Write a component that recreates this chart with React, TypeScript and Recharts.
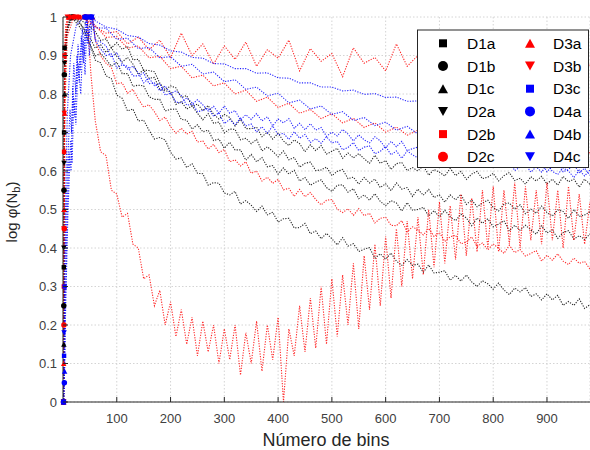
import React from 'react'
import { LineChart, Line, XAxis, YAxis, CartesianGrid } from 'recharts'

const FONT = '"Liberation Sans", Arial, Helvetica, sans-serif'

// x positions (number of bins)
const mainBins = [
  60, 80, 100, 120, 140, 160, 180, 200, 220, 240,
  260, 280, 300, 320, 340, 360, 380, 400, 420, 440,
  460, 480, 500, 520, 540, 560, 580, 600, 620, 640,
  660, 680, 700, 720, 740, 760, 780, 800, 820, 840,
  860, 880, 900, 920, 940, 960, 980,
]
const fineBins = [
  60, 70, 80, 90, 100, 110, 120, 130, 140, 150,
  160, 170, 180, 190, 200, 210, 220, 230, 240, 250,
  260, 270, 280, 290, 300, 310, 320, 330, 340, 350,
  360, 370, 380, 390, 400, 410, 420, 430, 440, 450,
  460, 470, 480, 490, 500, 510, 520, 530, 540, 550,
  560, 570, 580, 590, 600, 610, 620, 630, 640, 650,
  660, 670, 680, 690, 700, 710, 720, 730, 740, 750,
  760, 770, 780, 790, 800, 810, 820, 830, 840, 850,
  860, 870, 880, 890, 900, 910, 920, 930, 940, 950,
  960, 970, 980,
]

const xTicks = [100, 200, 300, 400, 500, 600, 700, 800, 900]
const yTicks = [0, 0.1, 0.2, 0.3, 0.4, 0.5, 0.6, 0.7, 0.8, 0.9, 1]

// first points (the marked start of each curve)
const d1aStartBins = [1, 1.5, 2, 3, 10, 20, 35, 50]
const d1aStart = [0, 0.35, 0.7, 0.92, 0.99, 1, 0.99, 0.975]
const d1bStartBins = [1, 1.4, 1.8, 2.5, 8, 18, 30, 45]
const d1bStart = [0, 0.25, 0.55, 0.85, 0.97, 1, 0.985, 0.96]
const d1cStartBins = [1, 1.6, 2.2, 3, 6, 15, 28, 45]
const d1cStart = [0, 0.15, 0.5, 0.8, 0.95, 1, 0.98, 0.945]
const d2aStartBins = [1, 1.5, 2, 3, 7, 16, 30, 45]
const d2aStart = [0, 0.4, 0.62, 0.88, 0.97, 1, 0.99, 0.95]
const d2bStartBins = [1, 1.5, 2, 3, 5, 12, 30, 45]
const d2bStart = [0, 0.3, 0.65, 0.9, 0.98, 1, 1, 0.99]
const d2cStartBins = [1, 1.7, 2.4, 4, 8, 20, 40, 50]
const d2cStart = [0, 0.2, 0.45, 0.78, 0.95, 1, 1, 0.99]
const d3aStartBins = [1, 1.3, 2, 3, 5, 10, 30, 55]
const d3aStart = [0, 0.1, 0.5, 0.75, 0.93, 1, 1, 1]
const d3bStartBins = [1, 1.6, 2.5, 4, 8, 25, 45, 52]
const d3bStart = [0, 0.45, 0.75, 0.95, 1, 1, 1, 0.85]
const d3cStartBins = [1, 2, 3, 5, 8, 14, 25, 40, 50]
const d3cStart = [0, 0.12, 0.3, 0.55, 0.75, 0.9, 0.98, 1, 1]
const d4aStartBins = [1, 2.5, 4, 7, 11, 15, 18, 22, 26, 30, 34, 38, 42, 46, 52]
const d4aStart = [0, 0.05, 0.22, 0.45, 0.65, 0.6, 0.82, 0.74, 0.9, 0.83, 0.95, 0.88, 1, 0.93, 1]
const d4bStartBins = [1, 3, 5, 9, 14, 17, 20, 24, 28, 33, 37, 41, 45, 49, 55]
const d4bStart = [0, 0.08, 0.25, 0.48, 0.68, 0.62, 0.79, 0.72, 0.88, 0.8, 0.94, 0.85, 1, 0.9, 1]
const d4cStartBins = [1, 2, 4, 8, 13, 16, 20, 24, 28, 32, 36, 40, 44, 48, 54]
const d4cStart = [0, 0.18, 0.38, 0.6, 0.76, 0.7, 0.88, 0.8, 0.93, 0.86, 0.97, 0.9, 1, 0.95, 1]

// log phi(Nb), every 10 bins from 60
const d1a = [
  0.962, 0.939, 0.943, 0.92, 0.933, 0.916, 0.924, 0.889, 0.89, 0.862,
  0.861, 0.858, 0.828, 0.811, 0.821, 0.816, 0.791, 0.796, 0.768, 0.774,
  0.757, 0.77, 0.747, 0.735, 0.747, 0.739, 0.717, 0.734, 0.71, 0.71,
  0.714, 0.689, 0.701, 0.683, 0.698, 0.678, 0.666, 0.681, 0.671, 0.65,
  0.668, 0.653, 0.666, 0.644, 0.651, 0.659, 0.633, 0.647, 0.634, 0.645,
  0.632, 0.62, 0.641, 0.62, 0.627, 0.604, 0.619, 0.622, 0.601, 0.609,
  0.6, 0.614, 0.589, 0.604, 0.597, 0.587, 0.607, 0.588, 0.599, 0.578,
  0.592, 0.599, 0.58, 0.584, 0.594, 0.574, 0.588, 0.596, 0.575, 0.581,
  0.566, 0.585, 0.574, 0.586, 0.566, 0.579, 0.563, 0.586, 0.572, 0.579,
  0.558, 0.579, 0.565,
]
const d1b = [
  0.919, 0.928, 0.908, 0.92, 0.898, 0.883, 0.895, 0.878, 0.851, 0.863,
  0.841, 0.843, 0.812, 0.808, 0.807, 0.773, 0.78, 0.761, 0.769, 0.75,
  0.733, 0.749, 0.724, 0.727, 0.699, 0.709, 0.708, 0.681, 0.685, 0.671,
  0.682, 0.652, 0.663, 0.651, 0.637, 0.652, 0.629, 0.635, 0.61, 0.62,
  0.623, 0.601, 0.603, 0.61, 0.588, 0.599, 0.604, 0.58, 0.584, 0.566,
  0.583, 0.569, 0.579, 0.557, 0.567, 0.549, 0.569, 0.553, 0.557, 0.534,
  0.553, 0.537, 0.552, 0.531, 0.538, 0.519, 0.538, 0.525, 0.539, 0.513,
  0.525, 0.507, 0.517, 0.524, 0.505, 0.496, 0.514, 0.517, 0.501, 0.512,
  0.489, 0.501, 0.49, 0.509, 0.492, 0.483, 0.499, 0.495, 0.477, 0.5,
  0.482, 0.486, 0.494,
]
const d1c = [
  0.899, 0.906, 0.89, 0.872, 0.883, 0.853, 0.853, 0.82, 0.823, 0.821,
  0.793, 0.786, 0.786, 0.756, 0.76, 0.761, 0.734, 0.732, 0.709, 0.72,
  0.702, 0.706, 0.679, 0.683, 0.659, 0.675, 0.655, 0.655, 0.628, 0.643,
  0.624, 0.635, 0.611, 0.614, 0.592, 0.608, 0.592, 0.602, 0.574, 0.583,
  0.563, 0.571, 0.577, 0.557, 0.547, 0.563, 0.564, 0.545, 0.554, 0.528,
  0.538, 0.524, 0.541, 0.521, 0.51, 0.523, 0.517, 0.496, 0.518, 0.498,
  0.5, 0.506, 0.483, 0.497, 0.481, 0.498, 0.481, 0.471, 0.488, 0.478,
  0.458, 0.478, 0.464, 0.476, 0.455, 0.462, 0.471, 0.444, 0.459, 0.446,
  0.459, 0.447, 0.436, 0.458, 0.439, 0.447, 0.425, 0.44, 0.445, 0.423,
  0.432, 0.422, 0.437,
]
const d2a = [
  0.888, 0.881, 0.847, 0.84, 0.797, 0.789, 0.756, 0.761, 0.73, 0.732,
  0.706, 0.683, 0.687, 0.681, 0.649, 0.631, 0.634, 0.609, 0.619, 0.594,
  0.593, 0.563, 0.57, 0.568, 0.543, 0.538, 0.547, 0.514, 0.523, 0.511,
  0.495, 0.509, 0.486, 0.493, 0.467, 0.476, 0.477, 0.452, 0.453, 0.464,
  0.437, 0.444, 0.424, 0.438, 0.424, 0.408, 0.427, 0.405, 0.411, 0.391,
  0.397, 0.401, 0.373, 0.385, 0.371, 0.387, 0.366, 0.355, 0.37, 0.355,
  0.358, 0.337, 0.356, 0.335, 0.337, 0.341, 0.316, 0.329, 0.314, 0.33,
  0.312, 0.3, 0.315, 0.307, 0.293, 0.309, 0.291, 0.279, 0.296, 0.286,
  0.297, 0.274, 0.281, 0.265, 0.281, 0.265, 0.277, 0.251, 0.261, 0.251,
  0.268, 0.243, 0.253,
]
const d3a = [
  0.941, 0.899, 0.88, 0.868, 0.827, 0.829, 0.802, 0.812, 0.787, 0.766,
  0.772, 0.754, 0.731, 0.74, 0.715, 0.698, 0.711, 0.696, 0.703, 0.675,
  0.678, 0.657, 0.669, 0.648, 0.656, 0.624, 0.629, 0.613, 0.624, 0.594,
  0.6, 0.574, 0.584, 0.568, 0.578, 0.551, 0.555, 0.534, 0.552, 0.533,
  0.544, 0.526, 0.512, 0.524, 0.526, 0.501, 0.492, 0.502, 0.485, 0.502,
  0.484, 0.49, 0.465, 0.477, 0.48, 0.459, 0.458, 0.471, 0.442, 0.455,
  0.447, 0.434, 0.451, 0.43, 0.44, 0.417, 0.429, 0.433, 0.411, 0.415,
  0.429, 0.404, 0.413, 0.395, 0.411, 0.399, 0.386, 0.407, 0.388, 0.396,
  0.379, 0.386, 0.393, 0.366, 0.381, 0.368, 0.385, 0.366, 0.357, 0.374,
  0.36, 0.365, 0.345,
]
const d3b = [
  0.73, 0.65, 0.64, 0.55, 0.54, 0.48, 0.49, 0.41, 0.4, 0.32,
  0.33, 0.25, 0.29, 0.2, 0.26, 0.17, 0.24, 0.15, 0.22, 0.12,
  0.21, 0.13, 0.2, 0.1, 0.19, 0.11, 0.2, 0.07, 0.18, 0.1,
  0.21, 0.08, 0.2, 0.11, 0.22, 0, 0.19, 0.12, 0.25, 0.13,
  0.27, 0.14, 0.3, 0.15, 0.32, 0.17, 0.33, 0.2, 0.36, 0.19,
  0.38, 0.24, 0.41, 0.25, 0.43, 0.27, 0.45, 0.3, 0.47, 0.32,
  0.48, 0.33, 0.5, 0.35, 0.52, 0.36, 0.51, 0.37, 0.54, 0.38,
  0.53, 0.39, 0.55, 0.4, 0.56, 0.39, 0.55, 0.41, 0.57, 0.4,
  0.56, 0.42, 0.55, 0.41, 0.57, 0.42, 0.55, 0.4, 0.56, 0.42,
  0.54, 0.41, 0.52,
]
const d4b = [
  0.939, 0.917, 0.9, 0.904, 0.867, 0.876, 0.872, 0.847, 0.847, 0.855,
  0.827, 0.829, 0.808, 0.821, 0.801, 0.808, 0.796, 0.771, 0.773, 0.785,
  0.772, 0.756, 0.768, 0.75, 0.769, 0.75, 0.757, 0.733, 0.746, 0.734,
  0.749, 0.73, 0.741, 0.717, 0.735, 0.725, 0.736, 0.711, 0.724, 0.707,
  0.723, 0.706, 0.713, 0.69, 0.701, 0.691, 0.708, 0.696, 0.678, 0.694,
  0.681, 0.673, 0.689, 0.678, 0.66, 0.677, 0.663, 0.677, 0.653, 0.658,
  0.662, 0.643, 0.664, 0.645, 0.65, 0.637, 0.654, 0.646, 0.628, 0.646,
  0.634, 0.649, 0.624, 0.631, 0.639, 0.622, 0.631, 0.612, 0.635, 0.622,
  0.611, 0.628, 0.612, 0.622, 0.598, 0.613, 0.619, 0.598, 0.604, 0.617,
  0.596, 0.607, 0.589,
]
const d4c = [
  0.941, 0.935, 0.925, 0.895, 0.908, 0.879, 0.865, 0.872, 0.855, 0.829,
  0.841, 0.822, 0.827, 0.797, 0.802, 0.779, 0.777, 0.79, 0.777, 0.754,
  0.757, 0.763, 0.742, 0.751, 0.723, 0.734, 0.72, 0.737, 0.717, 0.722,
  0.701, 0.715, 0.698, 0.717, 0.694, 0.698, 0.682, 0.702, 0.685, 0.695,
  0.674, 0.684, 0.672, 0.689, 0.673, 0.677, 0.655, 0.661, 0.674, 0.653,
  0.662, 0.665, 0.645, 0.651, 0.664, 0.642, 0.652, 0.633, 0.652, 0.642,
  0.634, 0.649, 0.625, 0.64, 0.632, 0.641, 0.621, 0.625, 0.641, 0.619,
  0.628, 0.609, 0.632, 0.621, 0.61, 0.623, 0.611, 0.626, 0.601, 0.61,
  0.618, 0.597, 0.611, 0.597, 0.618, 0.599, 0.591, 0.608, 0.6, 0.583,
  0.602, 0.587, 0.603,
]

// log phi(Nb), every 20 bins from 60
const d2b = [0.975, 0.958, 0.962, 0.93, 0.948, 0.915, 0.94, 0.895, 0.958, 0.9, 0.93, 0.878, 0.925, 0.89, 0.935, 0.872, 0.915, 0.893, 0.94, 0.86, 0.918, 0.885, 0.905, 0.845, 0.92, 0.88, 0.895, 0.86, 0.93, 0.872, 0.9, 0.855, 0.915, 0.87, 0.885, 0.85, 0.9, 0.872, 0.89, 0.848, 0.895, 0.862, 0.88, 0.85, 0.89, 0.865, 0.875]
const d2c = [0.978, 0.947, 0.949, 0.919, 0.925, 0.894, 0.898, 0.866, 0.872, 0.842, 0.849, 0.821, 0.829, 0.8, 0.81, 0.781, 0.792, 0.765, 0.776, 0.75, 0.76, 0.736, 0.749, 0.725, 0.737, 0.713, 0.725, 0.701, 0.714, 0.693, 0.706, 0.685, 0.699, 0.677, 0.691, 0.669, 0.683, 0.661, 0.675, 0.653, 0.667, 0.645, 0.659, 0.639, 0.654, 0.634, 0.648]
const d3c = [0.99, 0.974, 0.968, 0.952, 0.948, 0.931, 0.927, 0.912, 0.909, 0.895, 0.893, 0.879, 0.878, 0.866, 0.866, 0.854, 0.855, 0.842, 0.841, 0.829, 0.829, 0.818, 0.818, 0.808, 0.81, 0.799, 0.801, 0.791, 0.792, 0.781, 0.782, 0.771, 0.773, 0.763, 0.765, 0.755, 0.757, 0.747, 0.751, 0.743, 0.743, 0.737, 0.74, 0.731, 0.734, 0.725, 0.728]
const d4a = [0.972, 0.971, 0.942, 0.945, 0.918, 0.921, 0.894, 0.897, 0.872, 0.877, 0.852, 0.857, 0.832, 0.837, 0.812, 0.818, 0.795, 0.802, 0.777, 0.784, 0.761, 0.769, 0.747, 0.754, 0.731, 0.739, 0.718, 0.727, 0.706, 0.716, 0.696, 0.704, 0.682, 0.693, 0.674, 0.685, 0.666, 0.677, 0.658, 0.669, 0.65, 0.661, 0.642, 0.654, 0.635, 0.646, 0.627]

type Shape = 'square' | 'circle' | 'up' | 'down'

const build = (sb: number[], sv: number[], bins: number[], vals: number[]) => [
  ...sb.map((x, i) => ({ x, y: sv[i], m: x <= 3 || sv[i] >= 0.995 })),
  ...vals.map((y, i) => ({ x: bins[i], y, m: false })),
]

const SERIES: { name: string; color: string; shape: Shape; data: { x: number; y: number; m: boolean }[] }[] = [
  { name: 'D1a', color: '#000000', shape: 'square', data: build(d1aStartBins, d1aStart, fineBins, d1a) },
  { name: 'D1b', color: '#000000', shape: 'circle', data: build(d1bStartBins, d1bStart, fineBins, d1b) },
  { name: 'D1c', color: '#000000', shape: 'up', data: build(d1cStartBins, d1cStart, fineBins, d1c) },
  { name: 'D2a', color: '#000000', shape: 'down', data: build(d2aStartBins, d2aStart, fineBins, d2a) },
  { name: 'D2b', color: '#ff0000', shape: 'square', data: build(d2bStartBins, d2bStart, mainBins, d2b) },
  { name: 'D2c', color: '#ff0000', shape: 'circle', data: build(d2cStartBins, d2cStart, mainBins, d2c) },
  { name: 'D3a', color: '#ff0000', shape: 'up', data: build(d3aStartBins, d3aStart, fineBins, d3a) },
  { name: 'D3b', color: '#ff0000', shape: 'down', data: build(d3bStartBins, d3bStart, fineBins, d3b) },
  { name: 'D3c', color: '#0000ff', shape: 'square', data: build(d3cStartBins, d3cStart, mainBins, d3c) },
  { name: 'D4a', color: '#0000ff', shape: 'circle', data: build(d4aStartBins, d4aStart, mainBins, d4a) },
  { name: 'D4b', color: '#0000ff', shape: 'up', data: build(d4bStartBins, d4bStart, fineBins, d4b) },
  { name: 'D4c', color: '#0000ff', shape: 'down', data: build(d4cStartBins, d4cStart, fineBins, d4c) },
]

function Marker({ shape, cx, cy, s, color }: { shape: Shape; cx: number; cy: number; s: number; color: string }) {
  if (shape === 'square') return <rect x={cx - s * 0.4} y={cy - s * 0.4} width={s * 0.8} height={s * 0.8} fill={color} />
  if (shape === 'circle') return <circle cx={cx} cy={cy} r={s / 2} fill={color} />
  const h = s * 0.45
  const pts = shape === 'up'
    ? `${cx},${cy - h} ${cx + s / 2},${cy + h} ${cx - s / 2},${cy + h}`
    : `${cx},${cy + h} ${cx + s / 2},${cy - h} ${cx - s / 2},${cy - h}`
  return <polygon points={pts} fill={color} />
}

const XTick = ({ x, y, payload }: any) => (
  <g>
    <line x1={x} x2={x} y1={y - 10} y2={y - 15} stroke="#262626" />
    <text x={x} y={y + 10.5} textAnchor="middle" fontSize={13} fill="#404040" fontFamily={FONT}>
      {payload.value}
    </text>
  </g>
)

const TopTick = ({ x, y }: any) => <line x1={x} x2={x} y1={y} y2={y + 5} stroke="#262626" />

const YTick = ({ x, y, payload }: any) => (
  <g>
    <line x1={x + 6} x2={x + 11} y1={y} y2={y} stroke="#262626" />
    <text x={x} y={y + 4.5} textAnchor="end" fontSize={13} fill="#404040" fontFamily={FONT}>
      {String(payload.value)}
    </text>
  </g>
)

function LegendBox() {
  const rowY = (i: number) => 43.3 + i * 22.7
  return (
    <g>
      <rect x={417.5} y={30} width={171} height={137.5} fill="#ffffff" stroke="#262626" strokeWidth={1} />
      {SERIES.map((s, i) => {
        const col = i < 6 ? 0 : 1
        const row = i % 6
        const mx = col === 0 ? 443 : 530
        const tx = col === 0 ? 467 : 553
        const cy = rowY(row)
        return (
          <g key={s.name}>
            <Marker shape={s.shape} cx={mx} cy={cy} s={10} color={s.color} />
            <text x={tx} y={cy + 5.5} fontSize={15.5} fill="#000" fontFamily={FONT}>{s.name}</text>
          </g>
        )
      })}
    </g>
  )
}

export default function App() {
  return (
    <div style={{ position: 'absolute', left: 0, top: 0, width: 590, height: 450, background: '#fff', fontFamily: FONT }}>
      <LineChart width={590} height={450} margin={{ top: 17, right: 0, bottom: 0, left: 0 }}>
        <CartesianGrid xAxisId="b" stroke="#d4d4d4" strokeDasharray="1.5 2" />
        <XAxis
          xAxisId="b" type="number" dataKey="x" domain={[0, 980]} ticks={xTicks} interval={0}
          height={48} tickSize={0} tickMargin={10} tickLine={false}
          axisLine={{ stroke: '#262626' }} tick={(p: any) => <XTick {...p} />}
        />
        <XAxis
          xAxisId="t" orientation="top" type="number" dataKey="x" domain={[0, 980]} ticks={xTicks} interval={0}
          height={0} tickSize={0} tickMargin={0} tickLine={false}
          axisLine={{ stroke: '#262626' }} tick={(p: any) => <TopTick {...p} />}
        />
        <YAxis
          type="number" domain={[0, 1]} ticks={yTicks} interval={0} width={63}
          tickSize={0} tickMargin={6} tickLine={false}
          axisLine={{ stroke: '#262626' }} tick={(p: any) => <YTick {...p} />}
        />
        {SERIES.map((s) => (
          <Line
            key={s.name}
            xAxisId="b"
            data={s.data}
            dataKey="y"
            type="linear"
            stroke={s.color}
            strokeWidth={1.1}
            strokeOpacity={0.85}
            strokeDasharray="1.2 1.4"
            isAnimationActive={false}
            activeDot={false}
            dot={(p: any) =>
              p.payload && p.payload.m ? (
                <Marker key={p.index} shape={s.shape} cx={p.cx} cy={p.cy} s={5.5} color={s.color} />
              ) : (
                <g key={p.index} />
              )
            }
          />
        ))}
      </LineChart>
      <svg width={590} height={450} style={{ position: 'absolute', left: 0, top: 0, pointerEvents: 'none' }}>
        <LegendBox />
        <text x={326} y={446} textAnchor="middle" fontSize={18} fill="#262626" fontFamily={FONT}>
          Número de bins
        </text>
        <text transform="translate(17,212) rotate(-90)" textAnchor="middle" fontSize={15} fill="#262626" fontFamily={FONT}>
          log φ(N<tspan fontSize={11} dy={3}>b</tspan><tspan dy={-3}>)</tspan>
        </text>
      </svg>
    </div>
  )
}
